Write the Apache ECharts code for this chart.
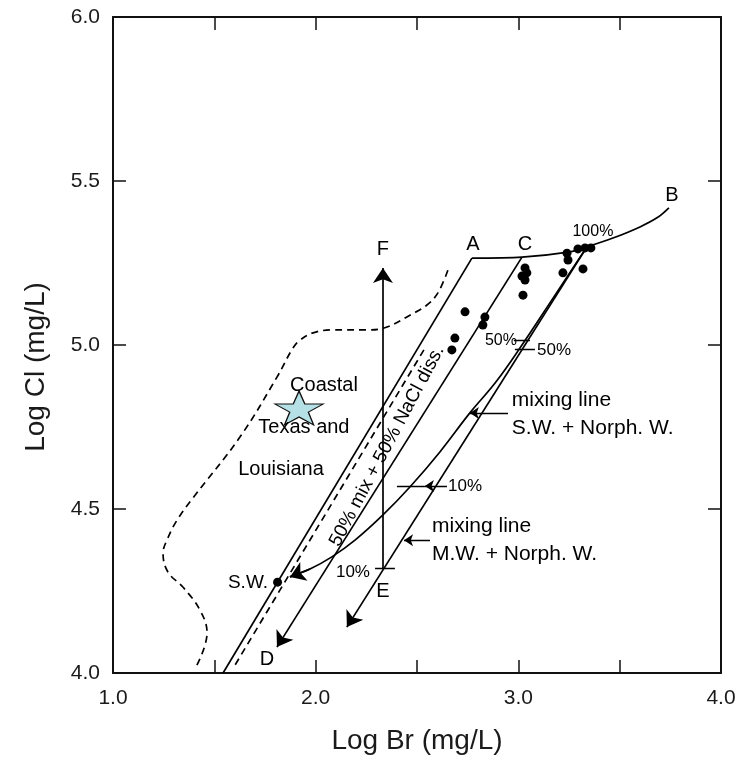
<!DOCTYPE html>
<html>
<head>
<meta charset="utf-8">
<title>Log Cl vs Log Br</title>
<script src="https://cdn.jsdelivr.net/npm/echarts/dist/echarts.min.js"></script>
<style>
  html, body { margin: 0; padding: 0; background: #fff; }
  #chart { width: 753px; height: 763px; }
</style>
</head>
<body>
<div id="chart"></div>
<script>
// axes (log10 of mg/L)
const xRange = [1.0, 4.0]
const yRange = [4.0, 6.0]
const xTickLabels = ['1.0', '2.0', '3.0', '4.0']
const yTickLabels = ['4.0', '4.5', '5.0', '5.5', '6.0']

// brine samples (black dots)
const samples = [
  [2.737, 5.101], [2.687, 5.021], [2.672, 4.985], [2.835, 5.085], [2.825, 5.061],
  [3.033, 5.235], [3.042, 5.220], [3.018, 5.210], [3.033, 5.198], [3.023, 5.152],
  [3.240, 5.280], [3.245, 5.259], [3.220, 5.220], [3.319, 5.232], [3.294, 5.293],
  [3.329, 5.296], [3.358, 5.296]
]
const seaWater = [1.812, 4.277]
const starPoint = [1.918, 4.808]

// seawater evaporation path A -> B
const lineAB = [
  [2.771, 5.265], [3.018, 5.268], [3.255, 5.284], [3.338, 5.299],
  [3.467, 5.326], [3.600, 5.360], [3.690, 5.390], [3.743, 5.418]
]
// seawater dilution line through S.W. and A
const lineA = [[2.771, 5.265], [1.543, 4.0]]
// 50% mix + 50% NaCl dissolution (C -> D)
const lineCD = [[3.018, 5.268], [1.809, 4.079]]
// mixing line M.W. + Norph. W. (100% -> past E)
const lineMW = [[3.338, 5.299], [2.154, 4.140]]
// mixing curve S.W. + Norph. W.
const curveSW = [
  [3.338, 5.299], [3.181, 5.152], [3.018, 5.000], [2.889, 4.887], [2.761, 4.793],
  [2.613, 4.674], [2.465, 4.567], [2.332, 4.482], [2.194, 4.405], [2.080, 4.354],
  [1.972, 4.317], [1.873, 4.293]
]
// E -> F
const lineEF = [[2.332, 4.320], [2.332, 5.235]]
// Coastal Texas and Louisiana field (dashed)
const fieldEdge = [
  [1.414, 4.024], [1.464, 4.122], [1.429, 4.192], [1.345, 4.262], [1.271, 4.308],
  [1.247, 4.366], [1.266, 4.405], [1.316, 4.466], [1.395, 4.534], [1.627, 4.720],
  [1.809, 4.902], [1.888, 4.991], [1.923, 5.015], [1.987, 5.037], [2.085, 5.046],
  [2.253, 5.046], [2.352, 5.055], [2.465, 5.091], [2.549, 5.122], [2.603, 5.159],
  [2.653, 5.229]
]
const fieldDash = [[2.534, 4.985], [1.602, 4.024]]

// small percentage ticks
const ticks = [
  [[2.293, 4.320], [2.391, 4.320]],
  [[2.978, 5.015], [3.057, 5.015]],
  [[2.983, 4.988], [3.082, 4.988]],
  [[2.401, 4.570], [2.539, 4.570]]
]
// leader arrows (from label to line)
const leaders = [
  [[2.949, 4.793], [2.761, 4.793]],
  [[2.564, 4.405], [2.436, 4.405]],
  [[2.648, 4.570], [2.539, 4.570]]
]

// annotation text: x, y, text, align, font size
const labels = [
  [2.776, 5.305, 'A', 'center', 20],
  [3.033, 5.305, 'C', 'center', 20],
  [3.368, 5.345, '100%', 'center', 16],
  [3.758, 5.457, 'B', 'center', 20],
  [2.332, 5.290, 'F', 'center', 20],
  [2.332, 4.250, 'E', 'center', 20],
  [2.268, 4.308, '10%', 'right', 17],
  [1.760, 4.040, 'D', 'center', 20],
  [1.765, 4.274, 'S.W.', 'right', 19],
  [2.041, 4.878, 'Coastal', 'center', 20],
  [1.942, 4.747, 'Texas and', 'center', 20],
  [1.829, 4.619, 'Louisiana', 'center', 20],
  [2.993, 5.012, '50%', 'right', 16],
  [3.092, 4.985, '50%', 'left', 17],
  [2.653, 4.570, '10%', 'left', 17],
  [2.968, 4.832, 'mixing line', 'left', 21],
  [2.968, 4.747, 'S.W. + Norph. W.', 'left', 21],
  [2.574, 4.448, 'mixing line', 'left', 21],
  [2.574, 4.363, 'M.W. + Norph. W.', 'left', 21]
]
const slantLabel = [2.352, 4.692, '50% mix + 50% NaCl diss.']

const INK = '#000'
const FONT = 'Liberation Sans'
const starPath = 'path://M50,0L61.8,35.1L98.5,35.1L68.8,56.7L79.4,91.2L50,69.8L20.6,91.2L31.2,56.7L1.5,35.1L38.2,35.1Z'

const axisCommon = {
  type: 'value',
  splitLine: { show: false },
  axisLine: { show: true, onZero: false, lineStyle: { color: '#111', width: 2 } },
  axisTick: { show: true, inside: true, length: 13, lineStyle: { color: '#111', width: 1.5 } }
}

const plainLine = (name, data, opts = {}) => ({
  name,
  type: 'line',
  data,
  symbol: 'none',
  z: 3,
  lineStyle: { color: INK, width: 1.7, type: opts.dashed ? [7, 5] : 'solid' },
  smooth: opts.smooth || false,
  silent: true
})

const option = {
  animation: false,
  backgroundColor: '#fff',
  grid: { left: 113, right: 32, top: 17, bottom: 90 },
  xAxis: [
    {
      ...axisCommon,
      min: xRange[0], max: xRange[1], interval: 0.5,
      position: 'bottom',
      name: 'Log Br (mg/L)',
      nameLocation: 'middle',
      nameGap: 54,
      nameTextStyle: { fontSize: 28, color: '#1a1a1a', fontFamily: FONT },
      axisLabel: {
        margin: 15, fontSize: 21, color: '#1a1a1a', fontFamily: FONT,
        formatter: v => (xTickLabels.includes(v.toFixed(1)) ? v.toFixed(1) : '')
      }
    },
    {
      ...axisCommon,
      min: xRange[0], max: xRange[1], interval: 0.5,
      position: 'top',
      axisLabel: { show: false }
    }
  ],
  yAxis: [
    {
      ...axisCommon,
      min: yRange[0], max: yRange[1], interval: 0.5,
      position: 'left',
      name: 'Log Cl (mg/L)',
      nameLocation: 'middle',
      nameGap: 63,
      nameTextStyle: { fontSize: 28, color: '#1a1a1a', fontFamily: FONT, padding: [0, 44, 0, 0] },
      axisLabel: {
        margin: 13, fontSize: 21, color: '#1a1a1a', fontFamily: FONT,
        formatter: v => (yTickLabels.includes(v.toFixed(1)) ? v.toFixed(1) : '')
      }
    },
    {
      ...axisCommon,
      min: yRange[0], max: yRange[1], interval: 0.5,
      position: 'right',
      axisLabel: { show: false }
    }
  ],
  series: [
    plainLine('A-B', lineAB, { smooth: 0.3 }),
    plainLine('A line', lineA),
    plainLine('mixing S.W.', curveSW, { smooth: 0.4 }),
    plainLine('field edge', fieldEdge, { dashed: true, smooth: 0.4 }),
    plainLine('field dash', fieldDash, { dashed: true }),
    {
      name: 'arrows',
      type: 'lines',
      coordinateSystem: 'cartesian2d',
      z: 4,
      silent: true,
      symbol: ['none', 'arrow'],
      symbolSize: 15,
      lineStyle: { color: INK, width: 1.7, opacity: 1, curveness: 0 },
      data: [
        { coords: lineCD },
        { coords: lineMW },
        { coords: lineEF },
        { coords: curveSW.slice(-2) }
      ]
    },
    {
      name: 'leaders',
      type: 'lines',
      coordinateSystem: 'cartesian2d',
      z: 4,
      silent: true,
      symbol: ['none', 'arrow'],
      symbolSize: 9,
      lineStyle: { color: INK, width: 1.3, opacity: 1, curveness: 0 },
      data: leaders.map(c => ({ coords: c }))
    },
    {
      name: 'ticks',
      type: 'lines',
      coordinateSystem: 'cartesian2d',
      z: 4,
      silent: true,
      symbol: 'none',
      lineStyle: { color: INK, width: 1.4, opacity: 1, curveness: 0 },
      data: ticks.map(c => ({ coords: c }))
    },
    {
      name: 'samples',
      type: 'scatter',
      z: 5,
      symbol: 'circle',
      symbolSize: 9,
      itemStyle: { color: INK, opacity: 1 },
      data: samples.concat([seaWater])
    },
    {
      name: 'star',
      type: 'scatter',
      z: 6,
      symbol: starPath,
      symbolSize: [48, 34],
      itemStyle: { color: '#b5e0e6', borderColor: '#111', borderWidth: 1.2, opacity: 1 },
      data: [starPoint]
    },
    {
      name: 'labels',
      type: 'scatter',
      z: 7,
      symbolSize: 1,
      itemStyle: { color: 'rgba(0,0,0,0)', opacity: 1 },
      label: {
        show: true, position: 'inside', color: INK, fontFamily: FONT
      },
      data: labels.map(([x, y, text, align, size]) => ({
        value: [x, y],
        label: { formatter: text, align, fontSize: size }
      })).concat([{
        value: [slantLabel[0], slantLabel[1]],
        label: { formatter: slantLabel[2], rotate: 62, align: 'center', fontSize: 19 }
      }])
    }
  ]
}

const chart = echarts.init(document.getElementById('chart'))
chart.setOption(option)
</script>
</body>
</html>
